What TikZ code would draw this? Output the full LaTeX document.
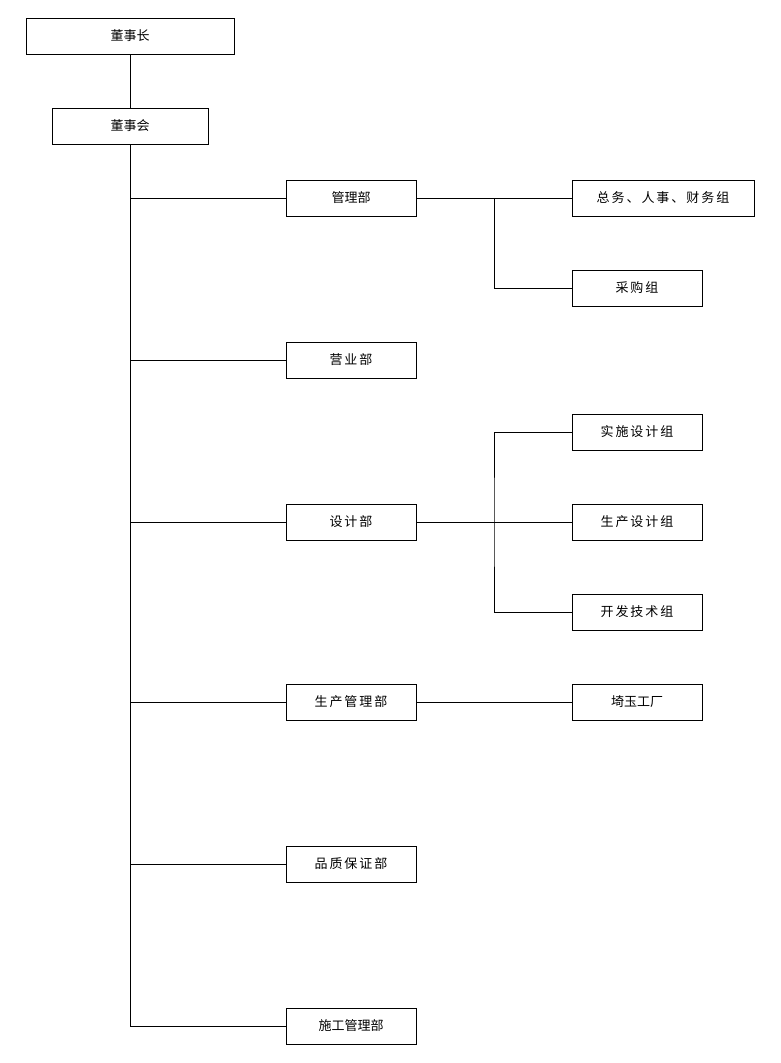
\documentclass[tikz,border=0pt]{standalone}
\usepackage{fontspec}
\usepackage{tikz}
\usetikzlibrary{positioning, calc}
\newfontfamily\cjk{Noto Sans CJK SC}
\newfontfamily\cjksp[LetterSpace=15]{Noto Sans CJK SC}

\begin{document}
\begin{tikzpicture}[
  x=1pt, y=-1pt,
  orgbox/.style={rectangle, draw=black, line width=0.9pt, minimum height=36pt,
                 minimum width=130pt, inner sep=0pt, font=\cjk\fontsize{13}{15}\selectfont},
  spaced/.style={font=\cjksp\fontsize{13}{15}\selectfont},
  link/.style={line width=0.9pt, draw=black}
]
\useasboundingbox (0,0) rectangle (781,1063);

% top of the tree
\node[orgbox, minimum width=208pt] (chair) at (130,36) {董事长};
\node[orgbox, minimum width=156pt] (board) at (130,126) {董事会};

% departments
\node[orgbox] (mgmt) at (351,198) {管理部};
\node[orgbox, spaced] (sales) at (351,360) {营业部};
\node[orgbox, spaced] (design) at (351,522) {设计部};
\node[orgbox, spaced] (prod) at (351,702) {生产管理部};
\node[orgbox, spaced] (qa) at (351,864) {品质保证部};
\node[orgbox] (build) at (351,1026) {施工管理部};

% groups
\node[orgbox, spaced, minimum width=182pt] (general) at (663,198) {总务、人事、财务组};
\node[orgbox, spaced] (purchase) at (637,288) {采购组};
\node[orgbox, spaced] (impl) at (637,432) {实施设计组};
\node[orgbox, spaced] (proddes) at (637,522) {生产设计组};
\node[orgbox, spaced] (devtech) at (637,612) {开发技术组};
\node[orgbox] (saitama) at (637,702) {埼玉工厂};

\coordinate (mgmtfork) at (494,198);
\coordinate (desfork) at (494,522);

\draw[link] (chair) -- (board);
\draw[link] (board.south) |- (build.west);
\draw[link] (board.south) |- (mgmt.west);
\draw[link] (board.south) |- (sales.west);
\draw[link] (board.south) |- (design.west);
\draw[link] (board.south) |- (prod.west);
\draw[link] (board.south) |- (qa.west);

\draw[link] (mgmt) -- (general);
\draw[link] (mgmtfork) |- (purchase.west);
\draw[link] (design) -- (proddes);
\draw[link] (impl.west) -| (desfork) |- (devtech.west);
\draw[link] (prod) -- (saitama);

\end{tikzpicture}
\end{document}
